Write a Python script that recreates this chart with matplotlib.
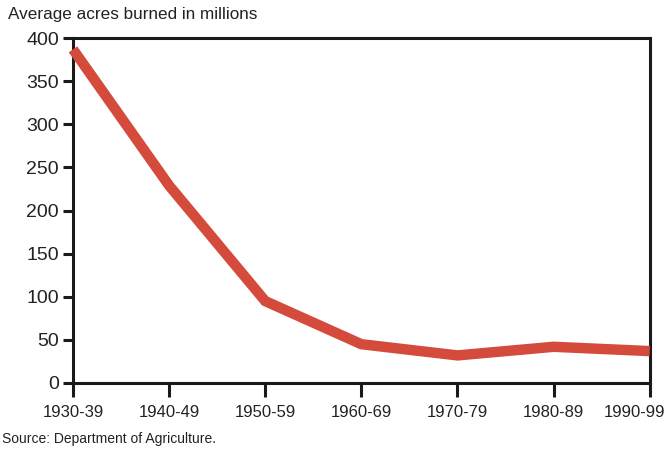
import matplotlib
matplotlib.use("Agg")
import matplotlib.pyplot as plt
from matplotlib.transforms import ScaledTranslation

plt.rcParams['font.family'] = ['Liberation Sans', 'DejaVu Sans']

decades = ["1930-39", "1940-49", "1950-59", "1960-69", "1970-79", "1980-89", "1990-99"]
acres = [387, 229, 95, 45, 32, 42, 37]
yticks = [0, 50, 100, 150, 200, 250, 300, 350, 400]

fig = plt.figure(figsize=(6.66, 4.49), dpi=100)
ax = fig.add_axes([0.1096, 0.147, 0.866, 0.768])
x = list(range(len(decades)))
ax.plot(x, acres, color="#d44b3b", lw=7.5, solid_capstyle="butt", solid_joinstyle="miter", clip_on=False, zorder=3)
ax.set_xlim(0, 6)
ax.set_ylim(0, 400)
ax.set_xticks(x)
ax.set_xticklabels(decades)
ax.set_yticks(yticks)
for s in ax.spines.values():
    s.set_linewidth(2.2)
    s.set_color("#1a1a1a")
ax.tick_params(axis="y", direction="out", length=7, width=2.2, color="#1a1a1a", labelsize=14, pad=3, labelcolor="#222222")
ax.tick_params(axis="x", direction="out", length=10, width=2.2, color="#1a1a1a", labelsize=12, pad=6, labelcolor="#222222")
last = ax.get_xticklabels()[-1]
last.set_transform(last.get_transform() + ScaledTranslation(-0.15, 0, fig.dpi_scale_trans))
fig.text(0.012, 0.968, "Average acres burned in millions", fontsize=12.3, ha="left", va="center", color="#222222")
fig.text(0.003, 0.022, "Source: Department of Agriculture.", fontsize=10, ha="left", va="center", color="#222222")
fig.savefig("out.png", dpi=100)
